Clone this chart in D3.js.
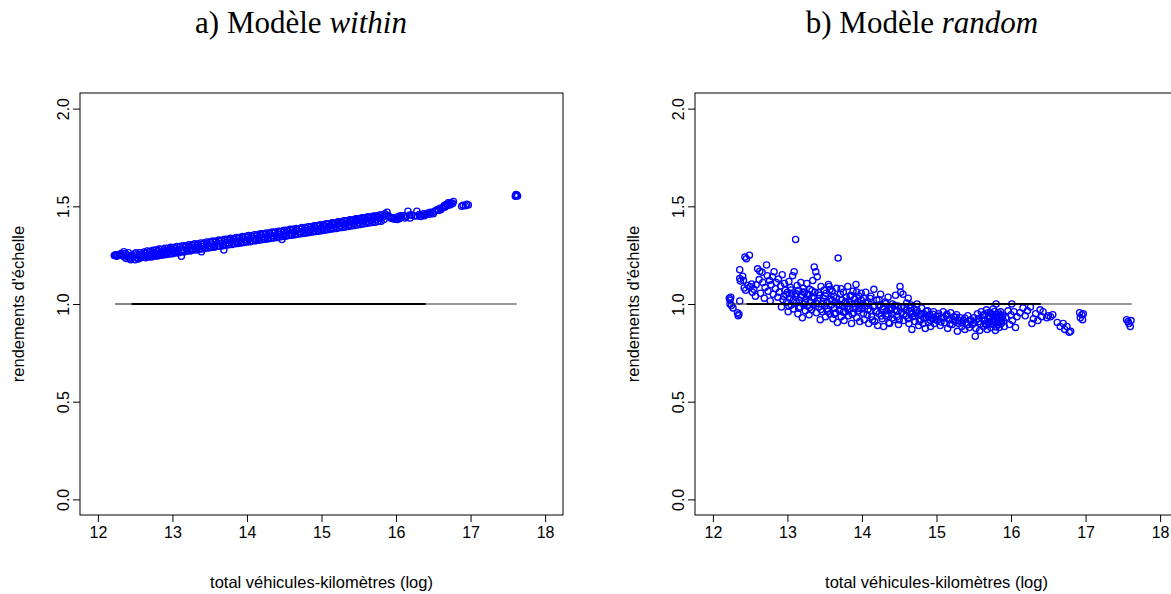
<!DOCTYPE html>
<html>
<head>
<meta charset="utf-8">
<script src="https://cdn.jsdelivr.net/npm/d3@7"></script>
<style>
  body { margin: 0; background: #fff; }
  svg { display: block; }
</style>
</head>
<body>
<div id="chart"></div>
<script>
// x = total vehicle-km (log), y = returns to scale
const withinA = [[12.22,1.248],[12.24,1.252],[12.25,1.245],[12.27,1.250],[12.31,1.258],[12.35,1.268],[12.36,1.240],[12.38,1.233],[12.40,1.246],[12.42,1.238],[12.44,1.226],[12.45,1.250],[12.47,1.243],[12.50,1.226],[12.52,1.238],[12.53,1.252],[12.55,1.245],[12.57,1.236],[12.59,1.256],[12.61,1.248],[12.62,1.240],[12.64,1.258],[12.66,1.250],[12.68,1.244],[12.70,1.262],[12.71,1.253],[12.73,1.246],[12.75,1.265],[12.76,1.257],[12.78,1.250],[12.80,1.268],[12.81,1.259],[12.83,1.252],[12.85,1.270],[12.86,1.262],[12.88,1.255],[12.90,1.273],[12.91,1.264],[12.93,1.258],[12.95,1.276],[12.96,1.268],[12.98,1.260],[12.99,1.280]];
const withinB = [[13.01,1.272],[13.03,1.264],[13.04,1.284],[13.06,1.276],[13.08,1.268],[13.10,1.288],[13.12,1.244],[13.13,1.279],[13.15,1.270],[13.17,1.290],[13.19,1.282],[13.20,1.274],[13.22,1.294],[13.24,1.285],[13.26,1.277],[13.28,1.298],[13.30,1.289],[13.31,1.280],[13.33,1.300],[13.35,1.292],[13.37,1.284],[13.39,1.267],[13.40,1.304],[13.42,1.296],[13.44,1.288],[13.46,1.308],[13.48,1.299],[13.50,1.291],[13.52,1.312],[13.54,1.303],[13.56,1.295],[13.58,1.316],[13.60,1.307],[13.62,1.299],[13.64,1.320],[13.66,1.311],[13.68,1.303],[13.69,1.276],[13.71,1.324],[13.73,1.315],[13.75,1.307],[13.77,1.327],[13.79,1.318],[13.81,1.310],[13.83,1.330],[13.85,1.321],[13.87,1.313],[13.89,1.334],[13.91,1.325],[13.93,1.317],[13.95,1.338],[13.97,1.329],[13.99,1.321]];
const withinC = [[14.01,1.341],[14.03,1.333],[14.05,1.324],[14.07,1.345],[14.09,1.336],[14.11,1.328],[14.13,1.348],[14.15,1.339],[14.17,1.331],[14.19,1.352],[14.21,1.343],[14.23,1.335],[14.25,1.355],[14.27,1.346],[14.29,1.338],[14.31,1.358],[14.33,1.349],[14.35,1.341],[14.37,1.362],[14.39,1.353],[14.41,1.345],[14.43,1.365],[14.45,1.356],[14.47,1.330],[14.49,1.368],[14.51,1.360],[14.53,1.351],[14.55,1.372],[14.57,1.363],[14.59,1.355],[14.61,1.375],[14.63,1.367],[14.65,1.358],[14.67,1.379],[14.69,1.370],[14.71,1.362],[14.73,1.383],[14.75,1.374],[14.77,1.366],[14.79,1.387],[14.81,1.378],[14.83,1.370],[14.85,1.391],[14.87,1.382],[14.89,1.374],[14.91,1.395],[14.93,1.386],[14.95,1.378],[14.97,1.399],[14.99,1.390]];
const withinD = [[15.01,1.386],[15.03,1.404],[15.05,1.396],[15.07,1.388],[15.09,1.408],[15.11,1.400],[15.13,1.392],[15.15,1.412],[15.17,1.404],[15.19,1.396],[15.21,1.416],[15.23,1.408],[15.25,1.400],[15.27,1.420],[15.29,1.412],[15.31,1.404],[15.33,1.424],[15.35,1.416],[15.37,1.408],[15.39,1.428],[15.41,1.420],[15.43,1.412],[15.45,1.432],[15.47,1.424],[15.49,1.416],[15.51,1.436],[15.53,1.428],[15.55,1.420],[15.57,1.440],[15.59,1.432],[15.61,1.424],[15.63,1.444],[15.65,1.436],[15.67,1.428],[15.69,1.448],[15.71,1.440],[15.73,1.432],[15.75,1.452],[15.77,1.444],[15.79,1.437],[15.81,1.456],[15.83,1.448],[15.85,1.462],[15.87,1.455],[15.88,1.470],[15.90,1.450],[15.92,1.444],[15.94,1.438],[15.96,1.442],[15.98,1.434]];
const withinE = [[16.01,1.440],[16.03,1.448],[16.05,1.437],[16.07,1.444],[16.10,1.452],[16.13,1.446],[16.16,1.475],[16.19,1.440],[16.21,1.455],[16.24,1.450],[16.28,1.475],[16.28,1.450],[16.31,1.458],[16.34,1.455],[16.37,1.462],[16.40,1.458],[16.43,1.466],[16.46,1.470],[16.49,1.468],[16.52,1.476],[16.55,1.482],[16.57,1.478],[16.59,1.490],[16.62,1.492],[16.64,1.498],[16.66,1.496],[16.68,1.510],[16.70,1.505],[16.72,1.514],[16.74,1.518],[16.77,1.525],[16.88,1.500],[16.90,1.506],[16.93,1.503],[16.95,1.510],[16.97,1.507],[17.60,1.552],[17.61,1.556],[17.62,1.558],[17.63,1.553],[17.61,1.560],
    [16.02,1.432],[16.06,1.452],[16.12,1.440],[16.18,1.456],[16.33,1.448],[16.38,1.452],[16.45,1.460],[16.50,1.462],[16.60,1.482],[16.65,1.505],[16.70,1.518],[16.73,1.508],[16.76,1.514]];
const withinEdge = [[12.23,1.250],[12.26,1.247],[12.29,1.253],[12.33,1.247],[12.37,1.258],[12.41,1.262],[12.43,1.230],[12.46,1.236],[12.49,1.256],[12.51,1.262],[12.54,1.230],[12.56,1.262],[12.58,1.243]];
const withinHi = [[12.62,1.266],[12.66,1.271],[12.70,1.270],[12.74,1.275],[12.78,1.276],[12.82,1.281],[12.86,1.280],[12.90,1.285],[12.94,1.285],[12.98,1.290],[13.02,1.289],[13.06,1.294],[13.10,1.294],[13.14,1.298],[13.18,1.298],[13.22,1.303],[13.26,1.303],[13.30,1.308],[13.34,1.307],[13.38,1.312],[13.42,1.312],[13.46,1.317],[13.50,1.317],[13.54,1.322],[13.58,1.321],[13.62,1.327],[13.66,1.326],[13.70,1.331],[13.74,1.331],[13.78,1.336],[13.82,1.335],[13.86,1.341],[13.90,1.340],[13.94,1.345],[13.98,1.345],[14.02,1.350],[14.06,1.349],[14.10,1.355],[14.14,1.354],[14.18,1.359],[14.22,1.359],[14.26,1.364],[14.30,1.363],[14.34,1.368],[14.38,1.368],[14.42,1.373],[14.46,1.373],[14.50,1.378],[14.54,1.377],[14.58,1.382],[14.62,1.382],[14.66,1.387],[14.70,1.387],[14.74,1.392],[14.78,1.391],[14.82,1.396],[14.86,1.396],[14.90,1.401],[14.94,1.401],[14.98,1.406],[15.02,1.405],[15.06,1.411],[15.10,1.410],[15.14,1.416],[15.18,1.415],[15.22,1.421],[15.26,1.420],[15.30,1.426],[15.34,1.425],[15.38,1.431],[15.42,1.430],[15.46,1.436],[15.50,1.435],[15.54,1.441],[15.58,1.440],[15.62,1.446],[15.66,1.445],[15.70,1.450],[15.74,1.450],[15.78,1.455]];
const withinLo = [[12.64,1.237],[12.68,1.240],[12.72,1.241],[12.76,1.245],[12.80,1.246],[12.84,1.249],[12.88,1.251],[12.92,1.253],[12.96,1.256],[13.00,1.257],[13.04,1.261],[13.08,1.262],[13.12,1.266],[13.16,1.266],[13.20,1.271],[13.24,1.271],[13.28,1.276],[13.32,1.276],[13.36,1.280],[13.40,1.281],[13.44,1.285],[13.48,1.286],[13.52,1.289],[13.56,1.291],[13.60,1.294],[13.64,1.296],[13.68,1.298],[13.72,1.301],[13.76,1.303],[13.80,1.305],[13.84,1.308],[13.88,1.310],[13.92,1.312],[13.96,1.315],[14.00,1.317],[14.04,1.319],[14.08,1.322],[14.12,1.324],[14.16,1.326],[14.20,1.329],[14.24,1.331],[14.28,1.333],[14.32,1.336],[14.36,1.338],[14.40,1.340],[14.44,1.343],[14.48,1.345],[14.52,1.347],[14.56,1.350],[14.60,1.352],[14.64,1.354],[14.68,1.357],[14.72,1.359],[14.76,1.361],[14.80,1.364],[14.84,1.366],[14.88,1.368],[14.92,1.371],[14.96,1.373],[15.00,1.375],[15.04,1.377],[15.08,1.380],[15.12,1.382],[15.16,1.385],[15.20,1.387],[15.24,1.390],[15.28,1.392],[15.32,1.394],[15.36,1.397],[15.40,1.399],[15.44,1.402],[15.48,1.404],[15.52,1.407],[15.56,1.409],[15.60,1.412],[15.64,1.414],[15.68,1.417],[15.72,1.419],[15.76,1.422],[15.80,1.424],[15.84,1.432]];

const randomA = [[12.22,1.030],[12.23,1.020],[12.24,1.035],[12.23,1.000],[12.25,0.992],[12.27,0.980],[12.33,0.955],[12.34,0.940],[12.35,0.948],[12.36,1.015],[12.36,1.130],[12.37,1.118],[12.36,1.175],[12.40,1.142],[12.41,1.120],[12.42,1.082],[12.44,1.070],[12.43,1.240],[12.45,1.232],[12.49,1.250],[12.47,1.095],[12.50,1.088],[12.52,1.102],[12.53,1.060],[12.55,1.075],[12.57,1.040],[12.58,1.098],[12.60,1.180],[12.62,1.125],[12.63,1.168],[12.64,1.055],[12.66,1.162],[12.67,1.110],[12.69,1.030],[12.70,1.085],[12.72,1.200],[12.73,1.145],[12.74,1.065],[12.76,1.120],[12.77,1.015],[12.78,1.098],[12.80,1.140],[12.81,1.050],[12.82,1.165],[12.84,1.078],[12.85,1.110],[12.87,1.035],[12.88,1.128],[12.89,1.060],[12.91,1.092],[12.92,0.985],[12.93,1.150],[12.95,1.040],[12.96,1.105],[12.97,1.070],[12.99,1.010]];
const randomB = [[13.00,1.060],[13.01,0.960],[13.02,1.115],[13.03,1.030],[13.04,1.085],[13.05,0.995],[13.06,1.050],[13.07,1.145],[13.08,0.975],[13.09,1.165],[13.10,1.040],[13.11,1.330],[13.12,1.005],[13.13,1.095],[13.14,0.950],[13.15,1.070],[13.16,1.020],[13.17,0.985],[13.18,1.110],[13.19,1.045],[13.20,0.930],[13.21,1.080],[13.22,1.000],[13.23,1.060],[13.24,0.965],[13.25,1.025],[13.26,1.105],[13.27,0.990],[13.28,1.050],[13.29,0.945],[13.30,1.075],[13.31,1.010],[13.32,0.970],[13.33,1.035],[13.34,1.120],[13.35,0.995],[13.36,1.190],[13.37,1.060],[13.38,1.165],[13.39,0.955],[13.40,1.140],[13.41,1.015],[13.42,0.985],[13.43,1.045],[13.44,0.920],[13.45,1.090],[13.46,1.000],[13.47,0.960],[13.48,1.030],[13.49,1.070],[13.50,0.990],[13.51,0.935],[13.52,1.055],[13.53,1.010],[13.54,0.975],[13.55,1.100],[13.56,1.090],[13.57,0.950],[13.58,1.025],[13.59,0.995],[13.60,1.065],[13.61,0.925],[13.62,1.040],[13.63,0.980],[13.64,1.010],[13.65,0.955],[13.66,1.080],[13.67,0.905],[13.68,1.235],[13.69,1.000],[13.70,0.970],[13.71,1.050],[13.72,0.935],[13.73,1.020],[13.74,0.990],[13.75,1.060],[13.76,0.915],[13.77,1.005],[13.78,0.960],[13.79,1.035],[13.80,0.985],[13.81,1.090],[13.82,0.940],[13.83,1.015],[13.84,0.975],[13.85,1.045],[13.86,0.900],[13.87,1.000],[13.88,1.065],[13.89,0.955],[13.90,1.025],[13.91,0.985],[13.92,1.100],[13.93,0.930],[13.94,1.010],[13.95,0.965],[13.96,1.040],[13.97,0.910],[13.98,0.995],[13.99,1.055]];
const randomC = [[14.00,0.975],[14.02,1.030],[14.03,0.920],[14.04,0.990],[14.05,1.060],[14.07,0.945],[14.08,1.005],[14.09,0.900],[14.11,0.965],[14.12,1.040],[14.13,0.935],[14.15,0.985],[14.16,1.075],[14.17,0.910],[14.19,0.960],[14.20,1.020],[14.21,0.890],[14.23,0.950],[14.24,0.995],[14.25,1.050],[14.27,0.925],[14.28,0.975],[14.29,0.885],[14.31,1.010],[14.32,0.940],[14.33,0.965],[14.35,1.035],[14.36,0.905],[14.37,0.900],[14.39,0.980],[14.40,0.950],[14.41,1.000],[14.43,0.920],[14.44,0.970],[14.45,1.045],[14.47,0.935],[14.48,0.990],[14.49,0.895],[14.51,1.090],[14.52,1.060],[14.53,0.955],[14.55,1.050],[14.56,0.915],[14.57,0.985],[14.59,0.940],[14.60,1.005],[14.62,1.030],[14.63,0.900],[14.64,0.960],[14.66,0.995],[14.67,0.870],[14.68,0.935],[14.70,0.975],[14.71,0.910],[14.73,0.955],[14.74,1.000],[14.76,0.890],[14.77,0.945],[14.79,0.920],[14.80,0.980],[14.82,0.900],[14.83,0.950],[14.85,0.875],[14.86,0.930],[14.88,0.965],[14.89,0.905],[14.91,0.945],[14.92,0.885],[14.94,0.925],[14.96,0.960],[14.97,0.900],[14.99,0.935]];
const randomD = [[15.01,0.915],[15.03,0.950],[15.05,0.890],[15.07,0.930],[15.09,0.960],[15.11,0.905],[15.13,0.940],[15.15,0.875],[15.17,0.920],[15.19,0.955],[15.21,0.895],[15.23,0.935],[15.25,0.910],[15.27,0.945],[15.28,0.860],[15.30,0.900],[15.32,0.930],[15.34,0.885],[15.36,0.915],[15.38,0.870],[15.40,0.905],[15.42,0.940],[15.44,0.880],[15.46,0.920],[15.48,0.895],[15.50,0.930],[15.52,0.835],[15.53,0.875],[15.55,0.950],[15.57,0.910],[15.58,0.865],[15.60,0.960],[15.61,0.925],[15.63,0.885],[15.64,0.945],[15.66,0.900],[15.67,0.970],[15.68,0.870],[15.70,0.935],[15.71,0.910],[15.72,0.955],[15.73,0.880],[15.75,0.920],[15.76,0.975],[15.77,0.895],[15.78,0.940],[15.79,0.865],[15.80,1.000],[15.81,0.930],[15.82,0.905],[15.83,0.955],[15.84,0.880],[15.85,0.925],[15.86,0.960],[15.87,0.900],[15.89,0.940],[15.91,0.885],[15.93,0.930],[15.96,0.965],[15.98,0.895],[16.00,0.945],[16.01,1.000],[16.02,0.915],[16.04,0.960],[16.06,0.880],[16.08,0.935]];
const randomE = [[16.12,0.955],[16.16,0.980],[16.19,0.940],[16.22,0.965],[16.26,0.985],[16.28,0.900],[16.30,0.925],[16.33,0.950],[16.36,0.915],[16.39,0.970],[16.41,0.935],[16.43,0.960],[16.48,0.930],[16.50,0.940],[16.53,0.935],[16.56,0.945],[16.62,0.905],[16.66,0.885],[16.70,0.900],[16.72,0.870],[16.75,0.885],[16.78,0.855],[16.80,0.860],[16.92,0.955],[16.93,0.930],[16.95,0.945],[16.96,0.920],[16.97,0.950],[17.55,0.920],[17.57,0.910],[17.58,0.900],[17.60,0.885],[17.61,0.915]];
const randomCore = [[12.94,1.022],[12.98,1.048],[13.02,0.988],[13.05,1.072],[13.08,1.018],[13.12,1.052],[13.15,0.978],[13.18,1.035],[13.21,1.062],[13.24,1.008],[13.27,1.045],[13.30,0.982],[13.33,1.068],[13.36,1.028],[13.39,1.002],[13.42,1.058],[13.45,0.972],[13.48,1.012],[13.51,1.040],[13.54,0.962],[13.57,1.074],[13.60,1.018],[13.63,0.948],[13.66,1.032],[13.69,0.992],[13.72,1.078],[13.75,0.958],[13.78,1.012],[13.81,0.972],[13.84,1.038],[13.87,0.948],[13.90,1.002],[13.93,1.062],[13.96,0.978],[13.99,1.020],[14.02,0.952],[14.05,1.008],[14.08,0.972],[14.11,1.028],[14.14,0.918],[14.17,0.992],[14.20,0.962],[14.23,1.022],[14.26,0.938],[14.29,0.985],[14.32,1.002],[14.35,0.948],[14.38,0.968],[14.41,0.928],[14.44,0.992],[14.47,0.962],[14.50,0.918],[14.53,0.982],[14.56,0.948],[14.59,0.968],[14.62,0.925],[14.65,0.978],[14.68,0.952],[14.71,0.938],[14.74,0.968],[14.77,0.912],[14.80,0.948],[14.83,0.928],[14.86,0.962],[14.89,0.935],[14.92,0.915],[14.95,0.948],[14.98,0.922],[15.02,0.938],[15.06,0.908],[15.10,0.928],[15.14,0.948],[15.18,0.898],[15.22,0.918],[15.26,0.932],[15.30,0.915],[15.34,0.905],[15.38,0.928],[15.42,0.895],[15.46,0.912],[15.50,0.905],[15.56,0.925],[15.59,0.898],[15.62,0.942],[15.65,0.915],[15.67,0.892],[15.69,0.955],[15.70,0.905],[15.72,0.932],[15.74,0.898],[15.75,0.948],[15.76,0.918],[15.78,0.962],[15.79,0.908],[15.80,0.882],[15.81,0.948],[15.82,0.918],[15.83,0.895],[15.84,0.938],[15.85,0.905],[15.86,0.945],[15.87,0.915],[15.88,0.928],[15.90,0.912]];

// reference line y = 1 (drawn heavier in the middle part of its range)
const refLine = [12.23, 12.45, 16.4, 17.62];
const xTicks = [12, 13, 14, 15, 16, 17, 18];
const yTicks = [0.0, 0.5, 1.0, 1.5, 2.0];
const titles = [["a) Modèle ", "within"], ["b) Modèle ", "random"]];

const W = 1171, H = 594;
const svg = d3.select("#chart").append("svg")
    .attr("width", W).attr("height", H);

const panels = [
    { title: titles[0], dx: 0, tx: 301,
      pts: [].concat(withinA, withinB, withinC, withinD, withinE, withinEdge, withinHi, withinLo) },
    { title: titles[1], dx: 615, tx: 922,
      pts: [].concat(randomA, randomB, randomC, randomD, randomE, randomCore) }
];

const box = { left: 80, right: 563, top: 93, bottom: 515 };
const sans = "'Liberation Sans', Arial, sans-serif";

panels.forEach(p => {
    const g = svg.append("g").attr("transform", `translate(${p.dx},0)`);

    const x = d3.scaleLinear().domain([11.76, 18.24]).range([box.left, box.right]);
    const y = d3.scaleLinear().domain([-0.08, 2.08]).range([box.bottom, box.top]);

    // title
    const t = svg.append("text")
        .attr("x", p.tx).attr("y", 33)
        .attr("text-anchor", "middle")
        .style("font-family", "'Liberation Serif', 'Times New Roman', serif")
        .style("font-size", "31px")
        .attr("fill", "#000");
    t.append("tspan").text(p.title[0]);
    t.append("tspan").style("font-style", "italic").text(p.title[1]);

    // points
    g.append("g").selectAll("circle")
        .data(p.pts)
        .enter().append("circle")
        .attr("cx", d => x(d[0]))
        .attr("cy", d => y(d[1]))
        .attr("r", 3.1)
        .attr("fill", "none")
        .attr("stroke", "#0000ff")
        .attr("stroke-width", 1.3);

    // y = 1 line
    const segs = d3.pairs(refLine);
    g.append("g").selectAll("line")
        .data(segs)
        .enter().append("line")
        .attr("x1", d => x(d[0]))
        .attr("x2", d => x(d[1]))
        .attr("y1", y(1)).attr("y2", y(1))
        .attr("stroke", (d, i) => i === 1 ? "#000" : "#333")
        .attr("stroke-width", (d, i) => i === 1 ? 2 : 1.2);

    // box
    g.append("rect")
        .attr("x", box.left).attr("y", box.top)
        .attr("width", box.right - box.left)
        .attr("height", box.bottom - box.top)
        .attr("fill", "none")
        .attr("stroke", "#000")
        .attr("stroke-width", 1);

    // axes
    const xAxis = g.append("g")
        .attr("transform", `translate(0,${box.bottom})`)
        .call(d3.axisBottom(x).tickValues(xTicks).tickFormat(d3.format("d")).tickSize(7).tickPadding(5));
    xAxis.select(".domain").remove();

    const yAxis = g.append("g")
        .attr("transform", `translate(${box.left},0)`)
        .call(d3.axisLeft(y).tickValues(yTicks).tickFormat(d3.format(".1f")).tickSize(7).tickPadding(0));
    yAxis.select(".domain").remove();
    yAxis.selectAll("text")
        .attr("x", null).attr("dy", null)
        .attr("text-anchor", "middle")
        .attr("transform", "translate(-11,0) rotate(-90)");

    g.selectAll(".tick line").attr("stroke", "#000");
    g.selectAll(".tick text")
        .attr("fill", "#000")
        .style("font-family", sans)
        .style("font-size", "16px");

    // axis titles
    g.append("text")
        .attr("x", (box.left + box.right) / 2).attr("y", 588)
        .attr("text-anchor", "middle")
        .style("font-family", sans).style("font-size", "16.5px")
        .text("total véhicules-kilomètres (log)");

    g.append("text")
        .attr("transform", `translate(24,${(box.top + box.bottom) / 2}) rotate(-90)`)
        .attr("text-anchor", "middle")
        .style("font-family", sans).style("font-size", "16.5px")
        .text("rendements d'échelle");
});
</script>
</body>
</html>
